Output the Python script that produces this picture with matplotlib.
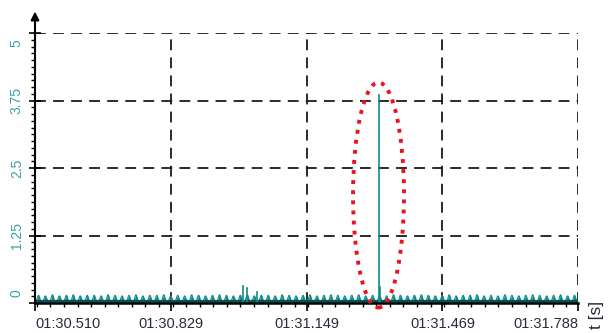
import matplotlib
matplotlib.use("Agg")
import matplotlib.pyplot as plt
import matplotlib.transforms as mtransforms
from matplotlib.patches import Ellipse
from matplotlib.ticker import MultipleLocator
import numpy as np

plt.rcParams['font.family'] = ['Liberation Sans', 'DejaVu Sans']

# ---- data ----
t_start, t_end = 90.510, 91.788
x_ticks = [90.510, 90.8295, 91.149, 91.469, 91.788]
x_labels = ["01:30.510", "01:30.829", "01:31.149", "01:31.469", "01:31.788"]
y_ticks = [0, 1.25, 2.5, 3.75, 5]
y_labels = ["0", "1.25", "2.5", "3.75", "5"]

# background ripple peak heights (one per ripple cycle)
noise_peaks = [0.14, 0.13, 0.15, 0.13, 0.14, 0.15, 0.13, 0.14, 0.14, 0.13,
               0.15, 0.14, 0.13, 0.14, 0.15, 0.13, 0.14, 0.14, 0.15, 0.13,
               0.14, 0.13, 0.15, 0.14, 0.13, 0.14, 0.15, 0.14, 0.13, 0.14,
               0.15, 0.13, 0.14, 0.14, 0.13, 0.15, 0.14, 0.13, 0.14, 0.15,
               0.13, 0.14, 0.15, 0.14, 0.13, 0.14, 0.15, 0.13, 0.14, 0.14,
               0.13, 0.15, 0.14, 0.13, 0.14, 0.15, 0.14, 0.13, 0.14, 0.15,
               0.13, 0.14, 0.14, 0.15, 0.13, 0.14, 0.13, 0.15, 0.14, 0.13,
               0.14, 0.15, 0.14, 0.13, 0.14, 0.15, 0.13, 0.14]
noise_base = 0.03

# isolated spikes: (time, height)
spike_times = [91.000, 91.009, 91.032, 91.3196, 91.3225]
spike_heights = [0.32, 0.28, 0.20, 3.85, 0.30]

# highlight ellipse (centre time, centre value, width s, height)
ell_center = (91.3185, 2.0)
ell_size = (0.120, 4.17)

# ---- build signal ----
n = len(noise_peaks)
period = (t_end - t_start) / n
ts, vs = [], []
for i, h in enumerate(noise_peaks):
    t0 = t_start + i * period
    ts += [t0, t0 + period * 0.25, t0 + period * 0.45, t0 + period * 0.55, t0 + period * 0.75]
    vs += [noise_base, noise_base + 0.03, h, h, noise_base + 0.03]
ts.append(t_end); vs.append(noise_base)
ts = np.array(ts); vs = np.array(vs)

teal = '#128a8a'

fig = plt.figure(figsize=(6.09, 3.33), dpi=100)
ax = fig.add_axes([35/609, 30/333, 543/609, 270/333])

ax.fill_between(ts, 0, vs, color=teal, lw=0)
ax.plot(ts, vs, color=teal, lw=0.8)
ax.plot([t_start, t_end], [noise_base, noise_base], color='#0b5050', lw=1.5)
for st, sh in zip(spike_times, spike_heights):
    ax.plot([st, st], [0, sh], color=teal, lw=1.2)

ax.set_xlim(t_start, t_end)
ax.set_ylim(0, 5)

ax.set_xticks(x_ticks)
ax.set_xticklabels(x_labels, fontsize=10.5, color='#2a2a3a')
ax.set_yticks(y_ticks)
ax.set_yticklabels(y_labels, fontsize=10, color='#3aa0a8', rotation=90, va='center')
ax.xaxis.set_minor_locator(MultipleLocator((x_ticks[1] - x_ticks[0]) / 10))
ax.yaxis.set_minor_locator(MultipleLocator(0.125))

ax.tick_params(axis='x', which='major', direction='out', length=6, width=1.2, pad=4)
ax.tick_params(axis='x', which='minor', direction='out', length=3, width=1)
ax.tick_params(axis='y', which='major', direction='inout', length=8, width=1.2, pad=4)
ax.tick_params(axis='y', which='minor', direction='out', length=3, width=1)

# end labels aligned inward
xlabs = ax.get_xticklabels()
xlabs[0].set_ha('left')
xlabs[-1].set_ha('right')
ylabs = ax.get_yticklabels()
ylabs[0].set_transform(ylabs[0].get_transform() + mtransforms.ScaledTranslation(0, 0.10, fig.dpi_scale_trans))
ylabs[-1].set_transform(ylabs[-1].get_transform() + mtransforms.ScaledTranslation(0, -0.10, fig.dpi_scale_trans))

ax.grid(True, which='major', color='#1a1a1a', lw=1.3, linestyle=(0, (6, 4)))
ax.set_axisbelow(True)

for s in ['top', 'right']:
    ax.spines[s].set_visible(False)
ax.spines['left'].set_linewidth(1.5)
ax.spines['bottom'].set_linewidth(1.8)

# y-axis arrow
ax.annotate('', xy=(0, 1.09), xycoords='axes fraction', xytext=(0, 0.93),
            textcoords='axes fraction',
            arrowprops=dict(arrowstyle='-|>', color='black', lw=1.5, mutation_scale=12),
            annotation_clip=False)

# highlight ellipse
ax.add_patch(Ellipse(ell_center, ell_size[0], ell_size[1], fill=False,
                     edgecolor='#e8141c', lw=2.8, linestyle=(0, (1, 1.6)),
                     clip_on=False, zorder=5))

fig.text(596/609, 1 - 301/333, 't [s]', rotation=90, fontsize=12.5, color='#2a2a3a',
         ha='center', va='top')

fig.savefig('out.png', dpi=100)
